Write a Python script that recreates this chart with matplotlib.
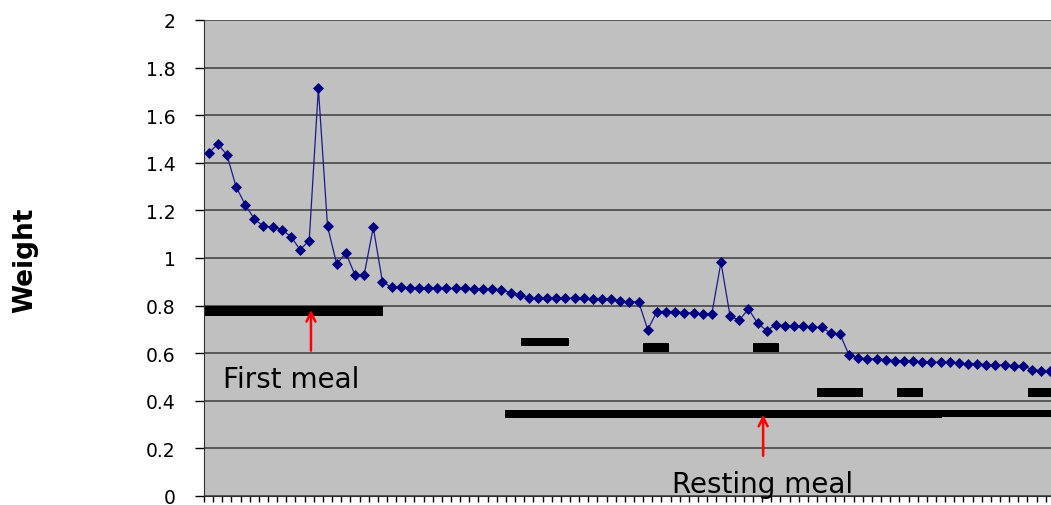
import matplotlib
matplotlib.use("Agg")
import matplotlib.pyplot as plt
import numpy as np

# weight series, one value per category
weights = [1.44, 1.479, 1.434, 1.30, 1.224, 1.164, 1.133, 1.131, 1.119, 1.09,
           1.035, 1.073, 1.714, 1.133, 0.975, 1.021, 0.929, 0.929, 1.129, 0.90,
           0.877, 0.877, 0.876, 0.872, 0.876, 0.872, 0.872, 0.872, 0.872, 0.869,
           0.869, 0.869, 0.865, 0.855, 0.846, 0.832, 0.832, 0.832, 0.832, 0.832,
           0.830, 0.830, 0.828, 0.828, 0.826, 0.818, 0.816, 0.816, 0.699, 0.775,
           0.775, 0.775, 0.769, 0.769, 0.765, 0.765, 0.982, 0.755, 0.739, 0.786,
           0.726, 0.695, 0.720, 0.716, 0.716, 0.713, 0.709, 0.709, 0.684, 0.681,
           0.592, 0.581, 0.576, 0.576, 0.573, 0.569, 0.569, 0.566, 0.564, 0.562,
           0.562, 0.562, 0.558, 0.555, 0.555, 0.552, 0.552, 0.550, 0.548, 0.548,
           0.531, 0.526, 0.524]

# meal periods: (start, end, level, thickness) in category / weight units
mealStarts = [-0.39, 34.13, 47.43, 59.48, 66.5, 75.21, 89.53, 32.39, 80.2]
mealEnds = [19.05, 39.38, 50.3, 62.32, 71.51, 78.05, 95.0, 80.2, 100.0]
mealLevels = [0.779, 0.647, 0.623, 0.623, 0.434, 0.434, 0.434, 0.345, 0.345]
mealHeights = [0.042, 0.034, 0.038, 0.038, 0.038, 0.038, 0.038, 0.034, 0.030]

# annotations: label, arrow x, arrow tail, arrow head, text x, text baseline
labels = ["First meal", "Resting meal"]
arrowX = [11.19, 60.61]
arrowTail = [0.611, 0.169]
arrowHead = [0.782, 0.342]
textX = [1.54, 60.57]
textY = [0.458, 0.0155]
textAlign = ["left", "center"]

yTicks = np.arange(0, 2.01, 0.2)
yTickLabels = ["0", "0.2", "0.4", "0.6", "0.8", "1", "1.2", "1.4", "1.6",
               "1.8", "2"]

fig = plt.figure(figsize=(10.51, 5.06), dpi=100)
ax = fig.add_axes([204 / 1051, 9 / 506, 1 - 204 / 1051, 476 / 506])
ax.set_facecolor("#c0c0c0")

x = np.arange(len(weights))
ax.plot(x, weights, color="#1a1a8c", lw=0.9, marker="D", ms=5.5,
        mfc="#000080", mec="#000080", mew=0.5, zorder=4)

for s, e, lev, h in zip(mealStarts, mealEnds, mealLevels, mealHeights):
    ax.barh(lev, e - s, left=s, height=h, color="black", zorder=3)

for lab, ax_, t0, t1, tx, ty, ha in zip(labels, arrowX, arrowTail, arrowHead,
                                        textX, textY, textAlign):
    ax.annotate("", xy=(ax_, t1), xytext=(ax_, t0),
                arrowprops=dict(arrowstyle="->", color="red", lw=1.8,
                                mutation_scale=16, shrinkA=0, shrinkB=0),
                zorder=5)
    ax.text(tx, ty, lab, ha=ha, va="baseline", fontsize=20, color="black",
            zorder=5)

ax.set_yticks(yTicks)
ax.set_yticklabels(yTickLabels)
ax.set_xticks(np.arange(-0.5, 110, 1))
ax.set_xticklabels([])
ax.set_xlim(-0.5, 92.07)
ax.set_ylim(0, 2)
ax.tick_params(axis="y", length=6.5, width=1, pad=14, labelsize=13.5,
               direction="out")
ax.tick_params(axis="x", length=4.5, width=1, direction="out")
ax.yaxis.grid(True, color="#3c3c3c", lw=1.1)
ax.set_axisbelow(True)

for side in ["top", "right"]:
    ax.spines[side].set_visible(False)
ax.spines["left"].set_color("#303030")
ax.spines["bottom"].set_color("#303030")

fig.text(25 / 1051, (506 - 260) / 506, "Weight", rotation=90, ha="center",
         va="center", fontsize=19, fontweight="bold")

fig.savefig("out.png", dpi=100)
